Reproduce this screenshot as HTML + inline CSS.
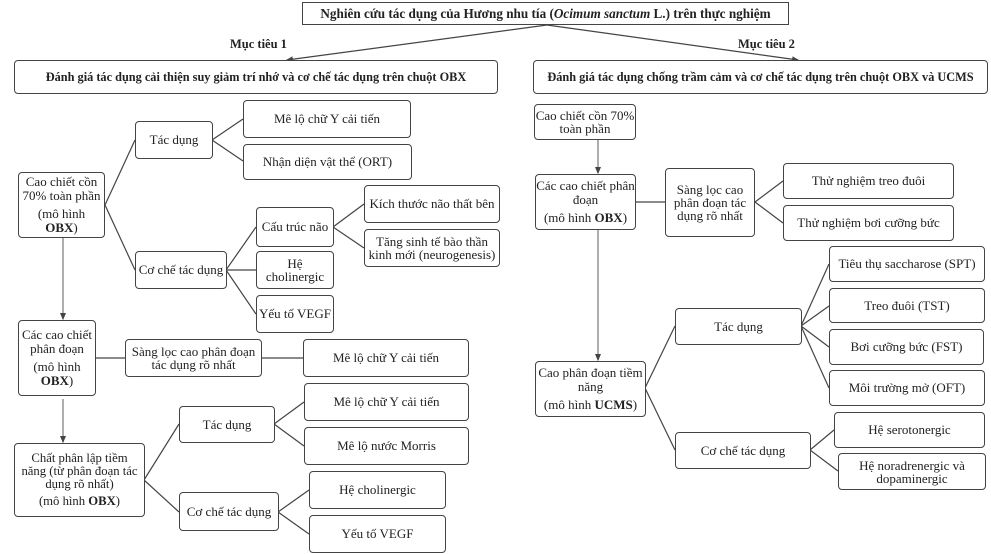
<!DOCTYPE html>
<html><head><meta charset="utf-8"><style>
body{margin:0;width:991px;height:554px;background:#fff;position:relative;overflow:hidden;font-family:"Liberation Serif",serif;color:#222}
.b{position:absolute;box-sizing:border-box;border:1.3px solid #444;border-radius:4px;display:flex;align-items:center;justify-content:center;text-align:center;font-size:13px;line-height:14px;background:#fff}
.b>span{display:block}
.n{white-space:nowrap}
.t{position:absolute;font-weight:bold;font-size:12.5px}
svg{position:absolute;left:0;top:0}
</style></head><body>
<svg width="991" height="554"><defs><marker id="a" markerWidth="6" markerHeight="6" refX="5" refY="3" orient="auto"><path d="M0,0.5 L6,3 L0,5.5z" fill="#444"/></marker></defs>
<g stroke="#444" stroke-width="1.2" fill="none">
<line x1="547" y1="25" x2="287" y2="60" marker-end="url(#a)"/>
<line x1="547" y1="25" x2="798" y2="60" marker-end="url(#a)"/>
<polyline points="135,140 105,205 135,270"/>
<polyline points="243,119 212,140 243,161"/>
<polyline points="256,227 226,270 256,314"/><line x1="226" y1="270" x2="256" y2="270"/>
<polyline points="364,204 333,227 364,248"/>
<line x1="63" y1="238" x2="63" y2="319" stroke="#777" marker-end="url(#a)"/>
<line x1="95" y1="358" x2="303" y2="358"/>
<line x1="63" y1="399" x2="63" y2="442" stroke="#777" marker-end="url(#a)"/>
<polyline points="179,424 144,480 179,512"/>
<polyline points="304,402 274,424 304,446"/>
<polyline points="309,490 278,512 309,534"/>
<line x1="598" y1="140" x2="598" y2="173" stroke="#777" marker-end="url(#a)"/>
<line x1="636" y1="202" x2="665" y2="202"/>
<polyline points="783,181 755,202 783,223"/>
<line x1="598" y1="230" x2="598" y2="360" stroke="#777" marker-end="url(#a)"/>
<polyline points="675,326 645,388 675,450"/>
<line x1="801" y1="326" x2="829" y2="264"/><line x1="801" y1="326" x2="829" y2="306"/><line x1="801" y1="326" x2="829" y2="347"/><line x1="801" y1="326" x2="829" y2="388"/>
<polyline points="834,430 810,450 838,471"/>
</g></svg>
<div class="b" style="left:302px;top:2px;width:487px;height:23px;border-radius:0;font-weight:bold;font-size:13.2px"><span>Nghiên cứu tác dụng của Hương nhu tía (<i>Ocimum sanctum</i> L.) trên thực nghiệm</span></div>
<div class="t" style="left:230px;top:37px">Mục tiêu 1</div>
<div class="t" style="left:738px;top:37px">Mục tiêu 2</div>
<div class="b" style="left:14px;top:60px;width:484px;height:34px;font-weight:bold;font-size:12.3px"><span>Đánh giá tác dụng cải thiện suy giảm trí nhớ và cơ chế tác dụng trên chuột OBX</span></div>
<div class="b" style="left:533px;top:60px;width:455px;height:34px;font-weight:bold;font-size:12.3px"><span>Đánh giá tác dụng chống trầm cảm và cơ chế tác dụng trên chuột OBX và UCMS</span></div>

<div class="b" style="left:135px;top:121px;width:78px;height:38px"><span>Tác dụng</span></div>
<div class="b" style="left:243px;top:100px;width:168px;height:38px"><span>Mê lộ chữ Y cải tiến</span></div>
<div class="b" style="left:243px;top:144px;width:169px;height:36px"><span>Nhận diện vật thể (ORT)</span></div>
<div class="b n" style="left:18px;top:172px;width:87px;height:66px"><span>Cao chiết cồn<br>70% toàn phần<br><span style="display:block;margin-top:4px">(mô hình<br><b>OBX</b>)</span></span></div>
<div class="b" style="left:256px;top:207px;width:78px;height:40px"><span>Cấu trúc não</span></div>
<div class="b" style="left:364px;top:185px;width:136px;height:38px"><span>Kích thước não thất bên</span></div>
<div class="b" style="left:364px;top:229px;width:136px;height:38px;line-height:13px"><span>Tăng sinh tế bào thần kinh mới (neurogenesis)</span></div>
<div class="b" style="left:135px;top:251px;width:92px;height:38px"><span>Cơ chế tác dụng</span></div>
<div class="b" style="left:256px;top:251px;width:78px;height:38px;line-height:13px"><span>Hệ<br>cholinergic</span></div>
<div class="b" style="left:256px;top:295px;width:78px;height:38px"><span>Yếu tố VEGF</span></div>
<div class="b n" style="left:18px;top:320px;width:78px;height:76px"><span>Các cao chiết<br>phân đoạn<br><span style="display:block;margin-top:4px">(mô hình<br><b>OBX</b>)</span></span></div>
<div class="b" style="left:125px;top:339px;width:137px;height:38px;line-height:13px"><span>Sàng lọc cao phân đoạn tác dụng rõ nhất</span></div>
<div class="b" style="left:303px;top:339px;width:166px;height:38px"><span>Mê lộ chữ Y cải tiến</span></div>
<div class="b n" style="left:14px;top:443px;width:131px;height:74px;line-height:13px;font-size:12.7px"><span>Chất phân lập tiềm<br>năng (từ phân đoạn tác<br>dụng rõ nhất)<br><span style="display:block;margin-top:4px">(mô hình <b>OBX</b>)</span></span></div>
<div class="b" style="left:179px;top:406px;width:96px;height:37px"><span>Tác dụng</span></div>
<div class="b" style="left:304px;top:383px;width:165px;height:38px"><span>Mê lộ chữ Y cải tiến</span></div>
<div class="b" style="left:304px;top:427px;width:165px;height:38px"><span>Mê lộ nước Morris</span></div>
<div class="b" style="left:179px;top:492px;width:100px;height:39px"><span>Cơ chế tác dụng</span></div>
<div class="b" style="left:309px;top:471px;width:137px;height:38px"><span>Hệ cholinergic</span></div>
<div class="b" style="left:309px;top:515px;width:137px;height:38px"><span>Yếu tố VEGF</span></div>

<div class="b n" style="left:534px;top:104px;width:102px;height:36px;line-height:13px"><span>Cao chiết cồn 70%<br>toàn phần</span></div>
<div class="b n" style="left:535px;top:174px;width:101px;height:56px"><span>Các cao chiết phân<br>đoạn<br><span style="display:block;margin-top:4px">(mô hình <b>OBX</b>)</span></span></div>
<div class="b" style="left:665px;top:168px;width:90px;height:69px;line-height:13px"><span>Sàng lọc cao phân đoạn tác dụng rõ nhất</span></div>
<div class="b" style="left:783px;top:163px;width:171px;height:36px"><span>Thử nghiệm treo đuôi</span></div>
<div class="b" style="left:783px;top:205px;width:171px;height:36px"><span>Thử nghiệm bơi cưỡng bức</span></div>
<div class="b n" style="left:535px;top:361px;width:111px;height:56px"><span>Cao phân đoạn tiềm<br>năng<br><span style="display:block;margin-top:4px">(mô hình <b>UCMS</b>)</span></span></div>
<div class="b" style="left:675px;top:308px;width:127px;height:37px"><span>Tác dụng</span></div>
<div class="b" style="left:829px;top:246px;width:156px;height:36px"><span>Tiêu thụ saccharose (SPT)</span></div>
<div class="b" style="left:829px;top:288px;width:156px;height:35px"><span>Treo đuôi (TST)</span></div>
<div class="b" style="left:829px;top:329px;width:155px;height:36px"><span>Bơi cưỡng bức (FST)</span></div>
<div class="b" style="left:829px;top:370px;width:156px;height:36px"><span>Môi trường mở (OFT)</span></div>
<div class="b" style="left:675px;top:432px;width:136px;height:37px"><span>Cơ chế tác dụng</span></div>
<div class="b" style="left:834px;top:412px;width:151px;height:36px"><span>Hệ serotonergic</span></div>
<div class="b" style="left:838px;top:453px;width:148px;height:37px;line-height:13px"><span>Hệ noradrenergic và dopaminergic</span></div>
</body></html>
